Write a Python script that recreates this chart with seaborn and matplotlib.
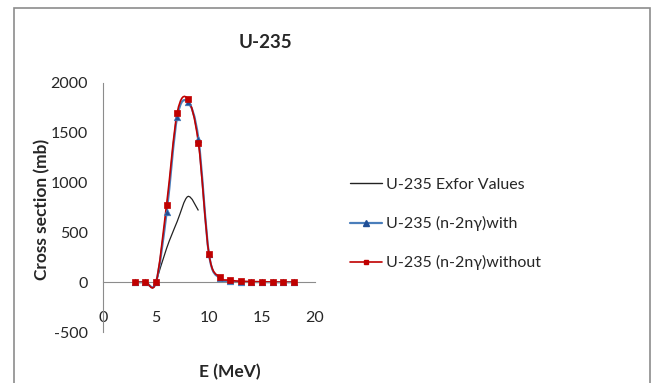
import numpy as np
import seaborn as sns
import matplotlib.pyplot as plt
from matplotlib.path import Path
from matplotlib.patches import PathPatch, Rectangle
from matplotlib.lines import Line2D

# values
exfor_e = [5, 6, 7, 8, 9]
exfor_xs = [0, 340, 610, 860, 720]

energy = [3, 4, 5, 6, 7, 8, 9, 10, 11, 12, 13, 14, 15, 16, 17, 18]
with_xs = [0, 0, 0, 700, 1660, 1810, 1440, 280, 40, 8, 4, 2, 1, 0, 0, 0]
without_xs = [0, 0, 0, 780, 1700, 1840, 1400, 280, 50, 20, 10, 6, 5, 2, 1, 0]

labels = ["U-235 Exfor Values", "U-235 (n-2n\u03b3)with", "U-235 (n-2n\u03b3)without"]


def smooth_path(x, y):
    # excel style smoothed line as bezier segments
    p = np.column_stack([x, y]).astype(float)
    ext = np.vstack([p[0], p, p[-1]])
    verts = [p[0]]
    codes = [Path.MOVETO]
    for i in range(1, len(ext) - 2):
        c1 = ext[i] + (ext[i + 1] - ext[i - 1]) / 6
        c2 = ext[i + 1] - (ext[i + 2] - ext[i]) / 6
        verts += [c1, c2, ext[i + 1]]
        codes += [Path.CURVE4] * 3
    return Path(verts, codes)


sns.set_style("white")
plt.rcParams["font.family"] = ["Lato", "DejaVu Sans"]
plt.rcParams["axes.unicode_minus"] = False

fig = plt.figure(figsize=(6.54, 3.83), dpi=100)
fig.patches.append(Rectangle((14 / 654, -0.05), 636 / 654, 1 - 8 / 383 + 0.05,
                             transform=fig.transFigure, fill=False,
                             edgecolor="#8c8c8c", linewidth=1.2))
ax = fig.add_axes([103 / 654, 1 - 332 / 383, 212 / 654, 249 / 383])

blue = "#4a7ebb"
red = "#c00000"

ax.add_patch(PathPatch(smooth_path(exfor_e, exfor_xs), fill=False, edgecolor="#222222", lw=0.9))
ax.add_patch(PathPatch(smooth_path(energy, with_xs), fill=False, edgecolor=blue, lw=1.6))
ax.add_patch(PathPatch(smooth_path(energy, without_xs), fill=False, edgecolor=red, lw=1.2))

sns.scatterplot(x=energy, y=with_xs, marker="^", s=22, color="#1f4e96", edgecolor="#4a7ebb",
                linewidth=0.5, ax=ax, zorder=3)
sns.scatterplot(x=energy, y=without_xs, marker="s", s=16, color=red, edgecolor=red,
                linewidth=0.5, ax=ax, zorder=4)

ax.set_xlim(0, 20)
ax.set_ylim(-500, 2000)
ax.set_xticks([0, 5, 10, 15, 20])
ax.set_yticks([-500, 0, 500, 1000, 1500, 2000])
for s in ["top", "right"]:
    ax.spines[s].set_visible(False)
ax.spines["bottom"].set_position(("data", 0))
ax.spines["left"].set_color("#8c8c8c")
ax.spines["bottom"].set_color("#8c8c8c")
ax.tick_params(axis="x", length=0, pad=21, labelsize=11.5)
ax.tick_params(axis="y", length=0, pad=11, labelsize=11.5)

fig.text(265 / 654, 1 - 42 / 383, "U-235", ha="center", va="center", fontsize=13.5, fontweight="bold")
fig.text(42 / 654, 1 - 209 / 383, "Cross section (mb)", ha="center", va="center", rotation=90,
         fontsize=12.5, fontweight="bold")
fig.text(230 / 654, 1 - 372 / 383, "E (MeV)", ha="center", va="center", fontsize=12.5,
         fontweight="bold")

handles = [
    Line2D([], [], color="#222222", lw=1.0),
    Line2D([], [], color=blue, lw=1.6, marker="^", markersize=4, markerfacecolor="#1f4e96",
           markeredgecolor="#1f4e96"),
    Line2D([], [], color=red, lw=1.2, marker="s", markersize=3.5, markerfacecolor=red,
           markeredgecolor=red),
]
fig.legend(handles, labels, loc="center left", bbox_to_anchor=(336 / 654, 1 - 224 / 383),
           frameon=False, fontsize=11.5, handlelength=2.0, handletextpad=0.2, labelspacing=1.5)

fig.savefig("out.png", dpi=100)
